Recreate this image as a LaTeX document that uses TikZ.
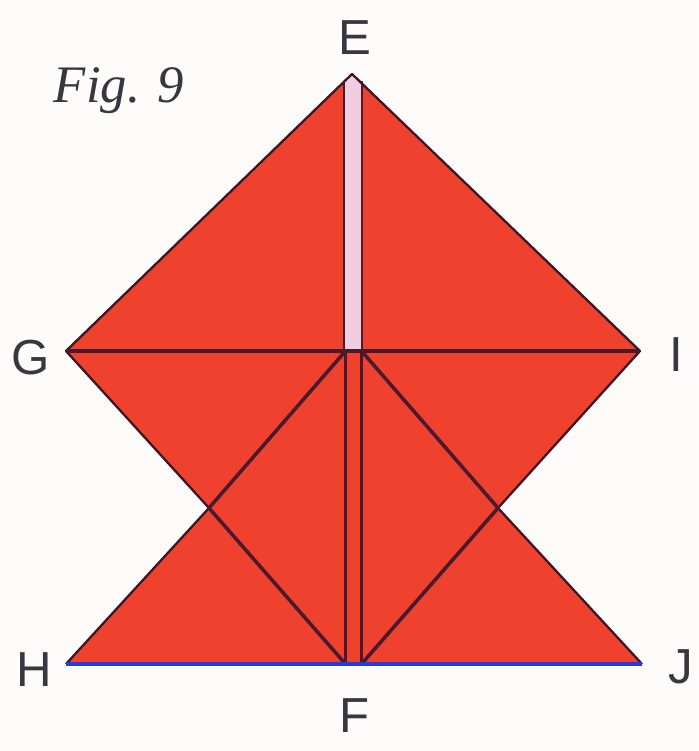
\documentclass[tikz,border=0pt]{standalone}
\usepackage{xcolor}
\usepackage{fontspec}
\setmainfont{Liberation Serif}
\setsansfont{Liberation Sans}
\usetikzlibrary{positioning, calc}
\definecolor{foldred}{RGB}{238,66,46}
\definecolor{foldline}{RGB}{75,25,45}
\definecolor{foldpink}{RGB}{240,205,225}
\definecolor{foldblue}{RGB}{35,60,225}
\definecolor{papercream}{RGB}{253,252,250}
\definecolor{lbldark}{RGB}{55,55,65}
\tikzset{
  crease/.style={color=foldline, line width=2pt},
  thincrease/.style={color=foldline, line width=1.3pt},
  edgeline/.style={color=foldline!80!black, line width=1.3pt},
  ptlabel/.style={font=\sffamily\fontsize{28}{28}\selectfont, color=lbldark, inner sep=0pt},
  figlabel/.style={font=\itshape\fontsize{30}{30}\selectfont, color=lbldark, inner sep=0pt}
}
\begin{document}
\begin{tikzpicture}[x=0.02cm, y=-0.02cm]
  \useasboundingbox (0,0) rectangle (698,751);
  \fill[papercream] (0,0) rectangle (698,751);
  % Corner points
  \coordinate (E) at (352,74);
  \coordinate (G) at (66,351);
  \coordinate (I) at (640,351);
  \coordinate (H) at (66,664);
  \coordinate (J) at (642,664);
  \coordinate (waistL) at (209,508);
  \coordinate (waistR) at (498,508);
  % Centre strip
  \coordinate (stripTL) at (344,81);
  \coordinate (stripTR) at (362,81);
  \coordinate (stripBL) at (344,351);
  \coordinate (stripBR) at (362,351);
  \coordinate (midL) at (345.5,351);
  \coordinate (midR) at (361.5,351);
  \coordinate (footL) at (345.5,664);
  \coordinate (footR) at (361.5,664);
  % Paper
  \fill[foldred] (E) -- (I) -- (waistR) -- (J) -- (H) -- (waistL) -- (G) -- cycle;
  \fill[foldpink] (E) -- (stripTR) -- (stripBR) -- (stripBL) -- (stripTL) -- cycle;
  % Outline
  \draw[edgeline, line join=round] (H) -- (waistL) -- (G) -- (E) -- (I) -- (waistR) -- (J);
  % Creases
  \draw[crease] (G) -- (I);
  \draw[thincrease] (stripTL) -- (stripBL);
  \draw[thincrease] (stripTR) -- (stripBR);
  \draw[crease] (midL) -- (footL);
  \draw[crease] (midR) -- (footR);
  \draw[crease] (midL) -- (waistL) -- (footL);
  \draw[crease] (midR) -- (waistR) -- (footR);
  \draw[color=foldblue, line width=2pt] (H) -- (J);
  % Labels
  \node[ptlabel] (lblE) at (355,38) {E};
  \node[ptlabel] (lblG) at (31,358) {G};
  \node[ptlabel] (lblI) at (676,355) {I};
  \node[ptlabel] (lblH) at (34,670) {H};
  \node[ptlabel] (lblJ) at (681,667) {J};
  \node[ptlabel] (lblF) at (355,716) {F};
  \node[figlabel] (figname) at (119,91) {Fig. 9};
\end{tikzpicture}
\end{document}
